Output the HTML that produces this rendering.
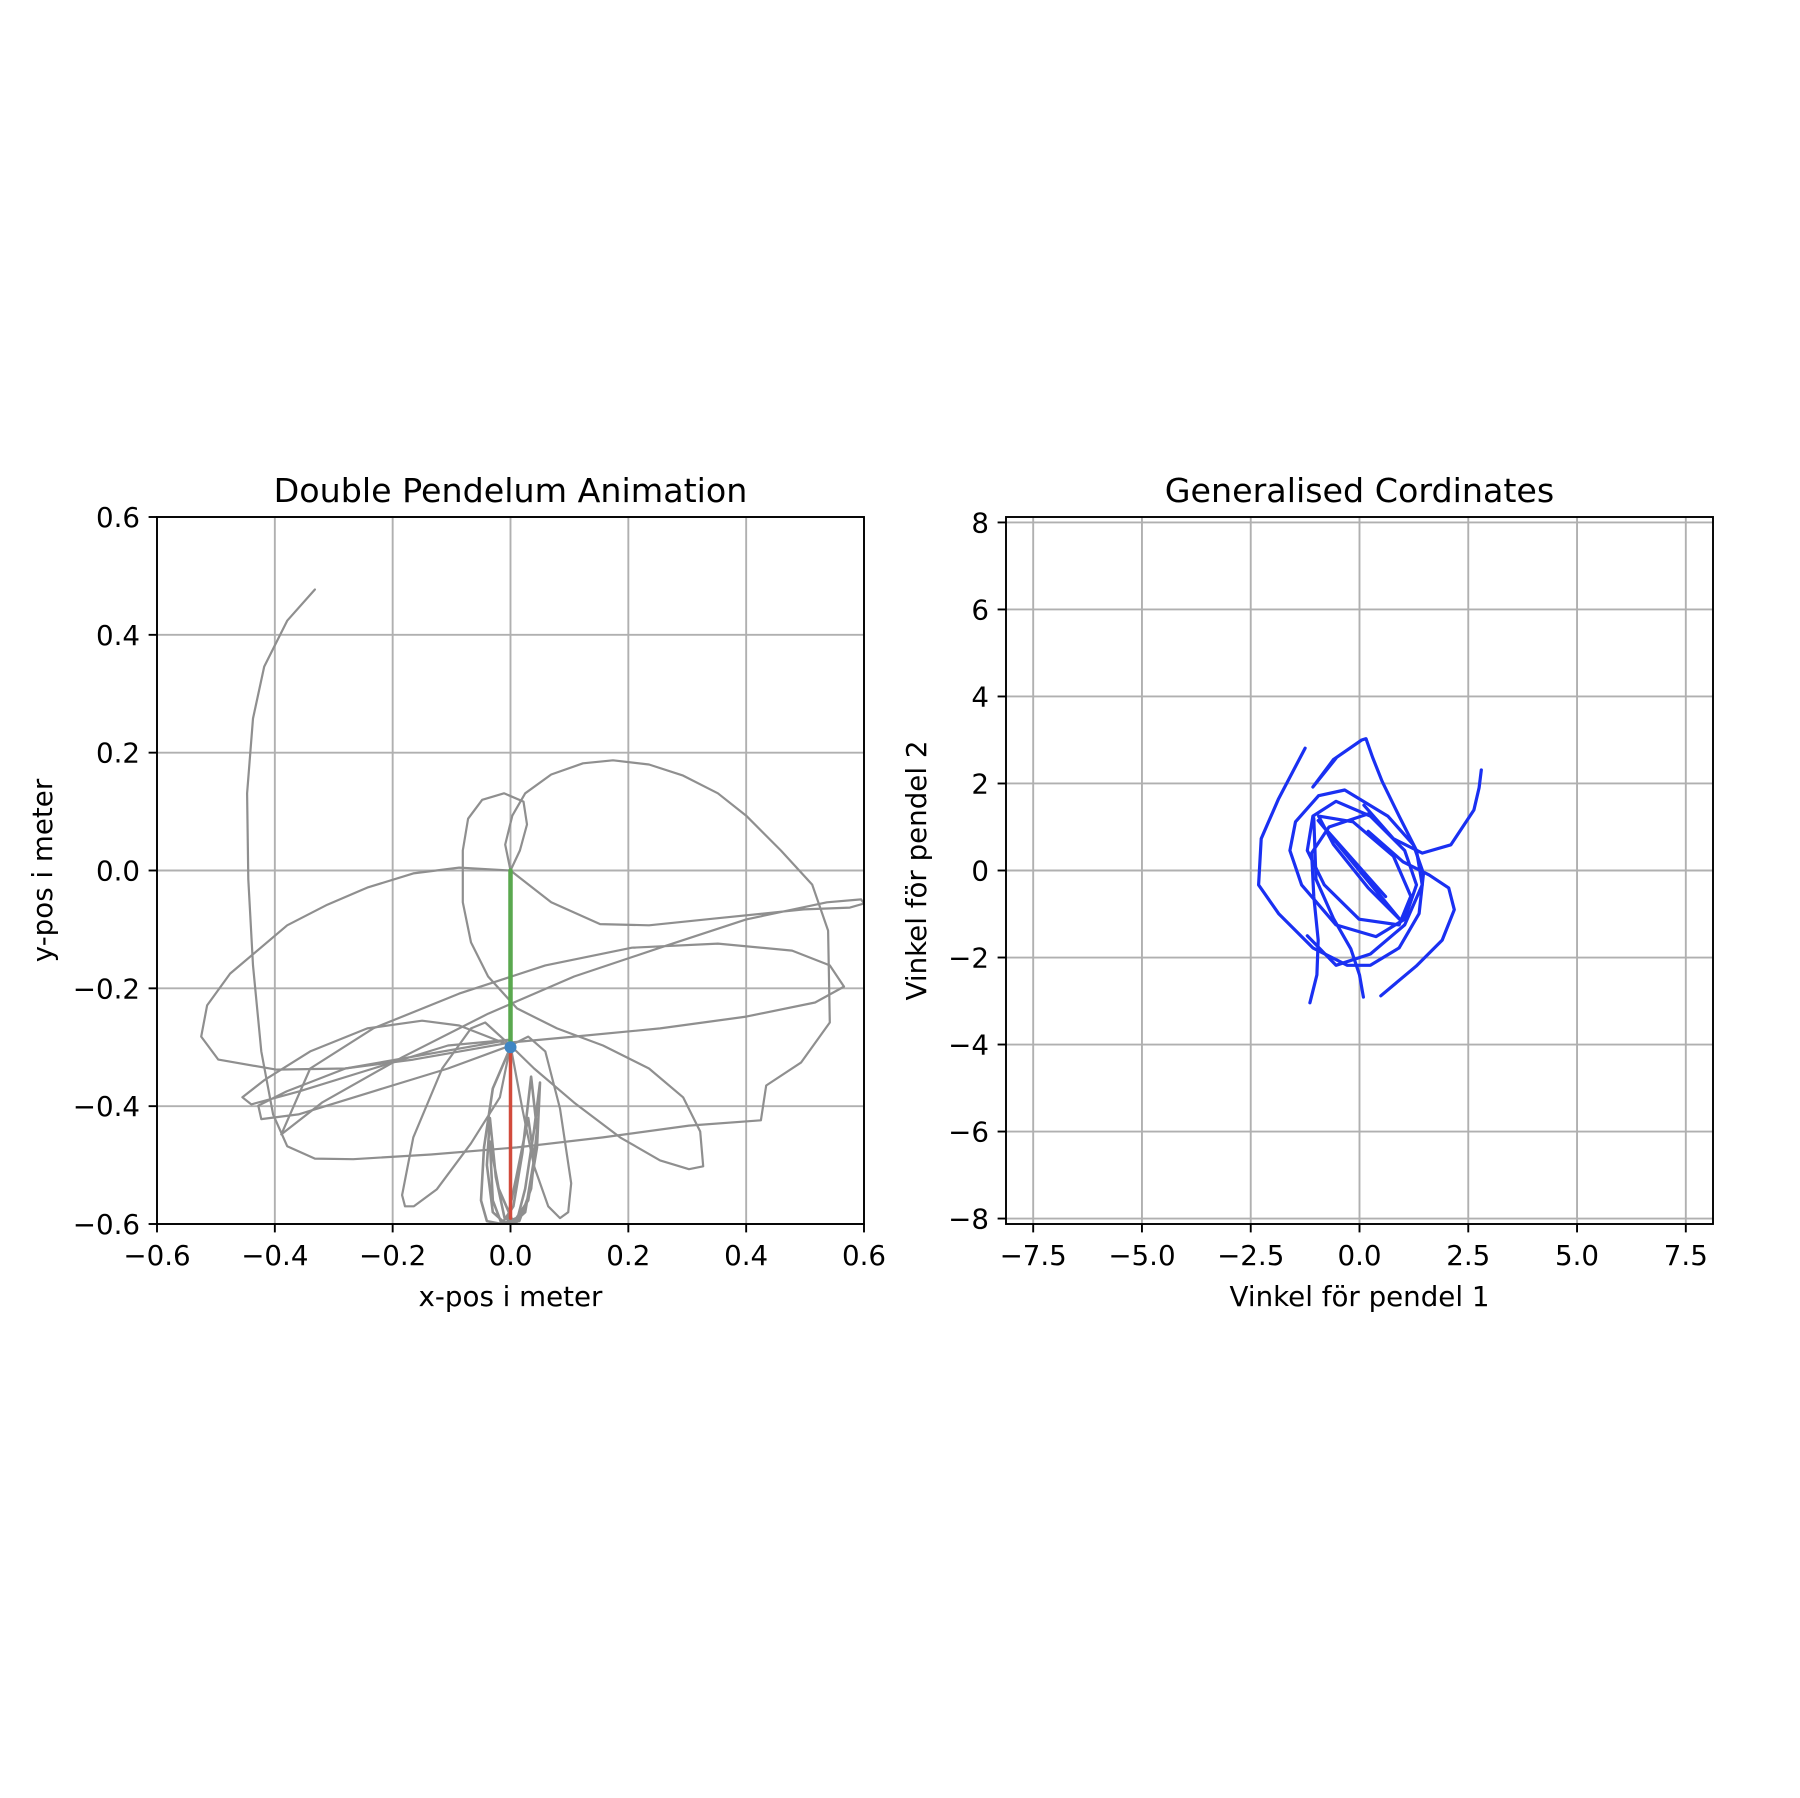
<!DOCTYPE html>
<html><head><meta charset="utf-8">
<style>
html,body{margin:0;padding:0;background:#fff;}
svg{display:block;font-family:"DejaVu Sans","Liberation Sans",sans-serif;}
</style></head>
<body>
<svg id="fig" width="1800" height="1798" viewBox="0 0 1800 1798" xmlns="http://www.w3.org/2000/svg">
<rect width="1800" height="1798" fill="#fff"/>
</svg>
<script>
// ---------- data: left chart (pendulum trace, meters) ----------
const leftTicks = [-0.6,-0.4,-0.2,0.0,0.2,0.4,0.6];
const leftTickLabels = ["\u22120.6","\u22120.4","\u22120.2","0.0","0.2","0.4","0.6"];
const traceAx = [-0.332,-0.379,-0.418,-0.437,-0.447,-0.445,-0.437,-0.423,-0.403,-0.379,-0.332,-0.267,-0.135,0.011,0.157,0.303,0.425,0.434,0.493,0.542,0.539,0.512,0.459,0.400,0.352,0.293,0.235,0.174,0.123,0.069,0.025,0.003,-0.009,0];
const traceAy = [0.477,0.424,0.346,0.258,0.131,-0.015,-0.161,-0.307,-0.414,-0.468,-0.489,-0.490,-0.482,-0.470,-0.453,-0.433,-0.424,-0.365,-0.326,-0.258,-0.102,-0.024,0.034,0.093,0.131,0.161,0.180,0.187,0.182,0.163,0.131,0.093,0.044,0];
const traceBx = [0,0.016,0.028,0.022,-0.011,-0.048,-0.072,-0.081,-0.081,-0.067,-0.038,0.011,0.079,0.157,0.235,0.293,0.322,0.327,0.303,0.254,0.186,0.108,0.040,0];
const traceBy = [0,0.034,0.078,0.117,0.131,0.120,0.088,0.034,-0.054,-0.122,-0.180,-0.234,-0.268,-0.297,-0.336,-0.385,-0.443,-0.502,-0.507,-0.492,-0.453,-0.394,-0.336,-0.297];
const traceCx = [0,-0.087,-0.165,-0.243,-0.311,-0.379,-0.476,-0.515,-0.525,-0.496,-0.398,-0.281,-0.165,-0.057,0,0.108,0.254,0.400,0.517,0.566,0.542,0.478,0.352,0.206,0.059,-0.087,-0.233,-0.340,-0.389,-0.320,-0.184,-0.038,0.108,0.254,0.400,0.537,0.595,0.600,0.576,0.498,0.352,0.235,0.152,0.069,0];
const traceCy = [0,0.005,-0.005,-0.029,-0.058,-0.093,-0.175,-0.229,-0.282,-0.321,-0.338,-0.336,-0.321,-0.302,-0.292,-0.282,-0.268,-0.248,-0.224,-0.197,-0.161,-0.136,-0.124,-0.131,-0.161,-0.209,-0.268,-0.336,-0.448,-0.394,-0.317,-0.243,-0.180,-0.131,-0.083,-0.054,-0.049,-0.056,-0.063,-0.066,-0.081,-0.093,-0.091,-0.054,0];
const traceDx = [0,-0.087,-0.150,-0.243,-0.340,-0.418,-0.455,-0.440,-0.359,-0.233,-0.106,0,-0.28,-0.38,-0.428,-0.423,-0.360,-0.233,-0.106,0];
const traceDy = [-0.297,-0.263,-0.255,-0.268,-0.307,-0.356,-0.385,-0.397,-0.375,-0.336,-0.297,-0.287,-0.336,-0.375,-0.399,-0.422,-0.414,-0.375,-0.336,-0.297];
const traceEx = [0,-0.043,-0.067,-0.116,-0.165,-0.184,-0.179,-0.164,-0.125,-0.067,-0.018,0,0.030,0.059,0.084,0.103,0.098,0.084,0.064,0.040,0.020,0];
const traceEy = [-0.297,-0.258,-0.268,-0.336,-0.453,-0.551,-0.570,-0.570,-0.541,-0.463,-0.385,-0.297,-0.282,-0.307,-0.404,-0.531,-0.580,-0.590,-0.570,-0.502,-0.404,-0.297];
const traceFx = [0,-0.030,-0.045,-0.050,-0.040,-0.015,0.010,0.030,0.045,0.050,0.040,0.025,0.010,-0.010,-0.025,-0.035,-0.040,-0.030,-0.010,0.015,0.035,0.045,0.035,0.020,0.005,-0.015,-0.030,-0.035,-0.020,0.005,0.025,0.040,0.030,0.010,-0.005,0];
const traceFy = [-0.300,-0.370,-0.470,-0.560,-0.595,-0.600,-0.590,-0.560,-0.470,-0.360,-0.440,-0.540,-0.598,-0.590,-0.520,-0.420,-0.500,-0.580,-0.598,-0.595,-0.540,-0.440,-0.350,-0.480,-0.570,-0.600,-0.560,-0.460,-0.540,-0.598,-0.580,-0.490,-0.420,-0.520,-0.590,-0.600];
const rod1x = [0,0], rod1y = [0,-0.3];
const rod2x = [0,0], rod2y = [-0.3,-0.59];
const bobX = [0], bobY = [-0.3];

// ---------- data: right chart (generalised coordinates, rad) ----------
const rightXTicks = [-7.5,-5.0,-2.5,0.0,2.5,5.0,7.5];
const rightXTickLabels = ["\u22127.5","\u22125.0","\u22122.5","0.0","2.5","5.0","7.5"];
const rightYTicks = [-8,-6,-4,-2,0,2,4,6,8];
const rightYTickLabels = ["\u22128","\u22126","\u22124","\u22122","0","2","4","6","8"];
const theta1A = [-1.25,-1.86,-2.26,-2.32,-1.86,-1.07,-0.28,0.25,0.91,1.37,1.47,1.24,0.65,-0.34,-0.94,-1.47,-1.60,-1.33,-0.54,0.38,1.04,1.31,1.04,0.25,-0.54,-1.07,-1.20,-0.81,-0.01,0.91,1.18,0.78,-0.15,-0.94,-0.60,0.20,0.95,-0.90,0.90,-0.95,0.60];
const theta2A = [2.81,1.65,0.73,-0.33,-0.99,-1.78,-2.18,-2.18,-1.78,-0.99,-0.07,0.59,1.25,1.85,1.72,1.12,0.46,-0.33,-1.25,-1.52,-1.12,-0.33,0.46,1.25,1.59,1.25,0.46,-0.33,-1.12,-1.25,-0.59,0.33,1.12,1.25,0.60,-0.40,-1.15,1.10,-1.10,1.15,-0.60];
const theta1B = [-0.54,-1.07,-0.60,0.05,0.15,0.30,0.52,0.91,1.31,1.44,1.04,0.25,-0.54,-1.20];
const theta2B = [2.58,1.92,2.55,3.00,3.03,2.60,2.05,1.25,0.46,-0.33,-1.25,-1.92,-2.18,-1.50];
const theta1C = [2.80,2.75,2.63,2.10,1.44,0.78,0.10];
const theta2C = [2.31,1.90,1.39,0.59,0.40,0.73,1.50];
const theta1D = [0.49,1.30,1.90,2.18,2.05,1.60,1.00,0.20];
const theta2D = [-2.88,-2.20,-1.60,-0.90,-0.40,-0.10,0.20,0.90];
const theta1E = [-1.14,-0.98,-0.95,-1.05,-1.10,-0.70,0.20];
const theta2E = [-3.04,-2.40,-1.60,-0.60,0.40,1.00,1.30];
const theta1F = [0.09,0.00,-0.20,-0.60,-1.00,-1.05];
const theta2F = [-2.91,-2.40,-1.80,-1.10,-0.20,1.20];

const NS = "http://www.w3.org/2000/svg";
const svg = document.getElementById('fig');
const TICK_FS = 27.7, TITLE_FS = 33.3;
function mk(tag, attrs, parent){
  const e = document.createElementNS(NS, tag);
  for (const k in attrs) e.setAttribute(k, attrs[k]);
  (parent||svg).appendChild(e);
  return e;
}
function axes(cfg){
  const {x0,y0,size,xmin,xmax,ymin,ymax} = cfg;
  return {
    sx: v => x0 + (v - xmin) / (xmax - xmin) * size,
    sy: v => y0 + size - (v - ymin) / (ymax - ymin) * size,
    cfg
  };
}
function drawFrame(ax, xt, xtl, yt, ytl, name){
  const {x0,y0,size} = ax.cfg;
  const g = mk('g', {});
  
  
  const grid = mk('g', {}, g);
  
  
  xt.forEach((t,i)=>{
    const x = ax.sx(t);
    const gl = mk('line', {x1:x,x2:x,y1:y0,y2:y0+size,stroke:'#b0b0b0','stroke-width':1.9}, grid);
    
    
    const tk = mk('line', {x1:x,x2:x,y1:y0+size,y2:y0+size+8.4,stroke:'#000','stroke-width':1.9}, g);
    
    
    const tl = mk('text', {x:x,y:y0+size+41,'text-anchor':'middle','font-size':TICK_FS,fill:'#000'}, g);
    tl.textContent = xtl[i];
    
    
  });
  yt.forEach((t,i)=>{
    const y = ax.sy(t);
    const gl = mk('line', {x1:x0,x2:x0+size,y1:y,y2:y,stroke:'#b0b0b0','stroke-width':1.9}, grid);
    
    
    const tk = mk('line', {x1:x0-8.4,x2:x0,y1:y,y2:y,stroke:'#000','stroke-width':1.9}, g);
    
    
    const tl = mk('text', {x:x0-17,y:y+10,'text-anchor':'end','font-size':TICK_FS,fill:'#000'}, g);
    tl.textContent = ytl[i];
    
    
  });
  return g;
}
function spine(ax, name){
  const {x0,y0,size} = ax.cfg;
  const r = mk('rect', {x:x0,y:y0,width:size,height:size,fill:'none',stroke:'#000','stroke-width':1.9});
  
  
}
function poly(ax, xs, ys, color, w, name, clipId){
  const pts = xs.map((v,i)=>ax.sx(v).toFixed(1)+','+ax.sy(ys[i]).toFixed(1)).join(' ');
  const p = mk('polyline', {points:pts,fill:'none',stroke:color,'stroke-width':w,'stroke-linejoin':'round','stroke-linecap':'round','clip-path':'url(#'+clipId+')'});
  
  
  return p;
}
function text(x,y,str,size,name,rot){
  const t = mk('text', {x:x,y:y,'text-anchor':'middle','font-size':size,fill:'#000'});
  if (rot) t.setAttribute('transform','rotate(-90 '+x+' '+y+')');
  t.textContent = str;
  
  
}

const defs = mk('defs', {});
const c1 = mk('clipPath', {id:'clipL'}, defs); mk('rect',{x:157,y:517,width:707,height:707},c1);
const c2 = mk('clipPath', {id:'clipR'}, defs); mk('rect',{x:1006,y:517,width:707,height:707},c2);

// Left axes
const axL = axes({x0:157,y0:517,size:707,xmin:-0.6,xmax:0.6,ymin:-0.6,ymax:0.6});
drawFrame(axL, leftTicks, leftTickLabels, leftTicks, leftTickLabels, 'pendulum-axes');
const gray = '#8f8f8f';
poly(axL, traceAx, traceAy, gray, 2.2, 'trace-segment-a', 'clipL');
poly(axL, traceBx, traceBy, gray, 2.2, 'trace-segment-b', 'clipL');
poly(axL, traceCx, traceCy, gray, 2.2, 'trace-segment-c', 'clipL');
poly(axL, traceDx, traceDy, gray, 2.2, 'trace-segment-d', 'clipL');
poly(axL, traceEx, traceEy, gray, 2.2, 'trace-segment-e', 'clipL');
poly(axL, traceFx, traceFy, gray, 2.6, 'trace-segment-f', 'clipL');
poly(axL, rod1x, rod1y, '#5aa84f', 4.5, 'upper-rod', 'clipL');
poly(axL, rod2x, rod2y, '#d24b3c', 3.5, 'lower-rod', 'clipL');
bobX.forEach((v,i)=>{
  const c = mk('circle',{cx:axL.sx(v),cy:axL.sy(bobY[i]),r:6,fill:'#3f86c4'});
  
  
});
spine(axL, 'pendulum-axes-frame');
text(510.5, 502, 'Double Pendelum Animation', TITLE_FS, 'left-chart-title');
text(510.5, 1306, 'x-pos i meter', TICK_FS, 'left-x-axis-title');
text(52, 870.5, 'y-pos i meter', TICK_FS, 'left-y-axis-title', true);

// Right axes
const axR = axes({x0:1006,y0:517,size:707,xmin:-8.125,xmax:8.125,ymin:-8.125,ymax:8.125});
drawFrame(axR, rightXTicks, rightXTickLabels, rightYTicks, rightYTickLabels, 'angle-axes');
const blue = '#1a30f2';
poly(axR, theta1A, theta2A, blue, 3.2, 'angle-trajectory-a', 'clipR');
poly(axR, theta1B, theta2B, blue, 3.2, 'angle-trajectory-b', 'clipR');
poly(axR, theta1C, theta2C, blue, 3.2, 'angle-trajectory-c', 'clipR');
poly(axR, theta1D, theta2D, blue, 3.2, 'angle-trajectory-d', 'clipR');
poly(axR, theta1E, theta2E, blue, 3.2, 'angle-trajectory-e', 'clipR');
poly(axR, theta1F, theta2F, blue, 3.2, 'angle-trajectory-f', 'clipR');
spine(axR, 'angle-axes-frame');
text(1359.5, 502, 'Generalised Cordinates', TITLE_FS, 'right-chart-title');
text(1359.5, 1306, 'Vinkel för pendel 1', TICK_FS, 'right-x-axis-title');
text(926, 870.5, 'Vinkel för pendel 2', TICK_FS, 'right-y-axis-title', true);
</script>
</body></html>
